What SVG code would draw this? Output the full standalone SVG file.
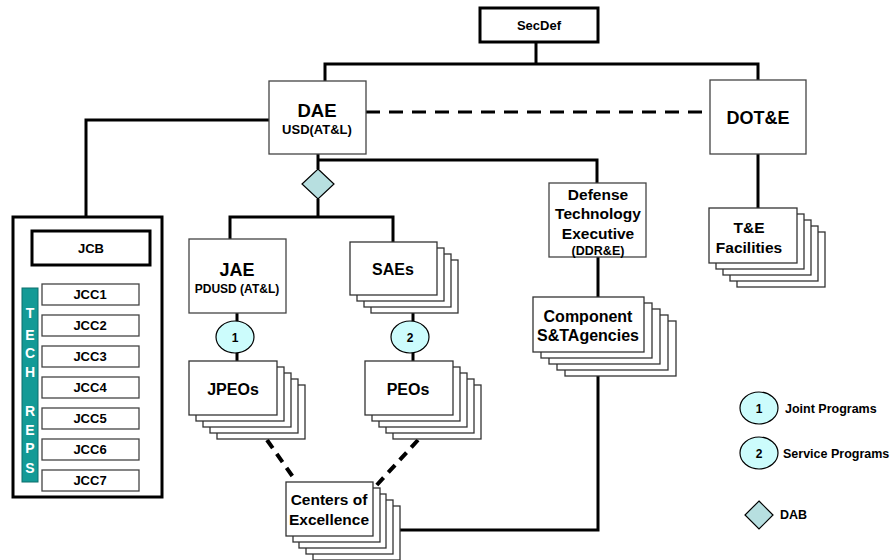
<svg xmlns="http://www.w3.org/2000/svg" width="896" height="560" viewBox="0 0 896 560">
<style>
text{font-family:"Liberation Sans",Arial,sans-serif;font-weight:bold;fill:#000;text-anchor:middle}
.box{fill:#fff;stroke:#444;stroke-width:1.3}
.thick{fill:#fff;stroke:#000;stroke-width:3}
.stk{fill:#fff;stroke:#333;stroke-width:1.3}
.ln{fill:none;stroke:#000;stroke-width:3}
.dash{fill:none;stroke:#000;stroke-width:3;stroke-dasharray:14 9}
.dash2{fill:none;stroke:#000;stroke-width:4;stroke-dasharray:10 7}
.oval{fill:#ccfcfc;stroke:#000;stroke-width:1.2}
.dia{fill:#b7dfe0;stroke:#000;stroke-width:1.2}
.rep{fill:#fff;font-size:14px}
.leg{text-anchor:start;font-size:12.5px}
</style>
<rect width="896" height="560" fill="#fff"/>
<g id="connectors">
<polyline class="ln" points="536,42 536,64"/>
<polyline class="ln" points="325,81 325,64 758,64 758,80"/>
<line class="dash" x1="366" y1="112" x2="710" y2="112"/>
<polyline class="ln" points="269,120 86,120 86,217"/>
<polyline class="ln" points="318,154 318,169"/>
<polyline class="ln" points="318,160 597,160 597,183"/>
<polyline class="ln" points="318,199 318,217"/>
<polyline class="ln" points="230,239 230,217 393,217 393,242"/>
<polyline class="ln" points="237,313 237,361"/>
<polyline class="ln" points="413,313 413,361"/>
<polyline class="ln" points="758,154 758,208"/>
<polyline class="ln" points="598,257 598,297"/>
<polyline class="ln" points="598,376 598,530 400,530"/>
<line class="dash2" x1="267" y1="440" x2="293" y2="477"/>
<line class="dash2" x1="418" y1="440" x2="375" y2="487"/>
</g>
<g id="secdef">
<rect class="thick" x="480" y="8" width="118" height="34"/>
<text x="539" y="29.5" font-size="13">SecDef</text>
</g>
<g id="dae">
<rect class="box" x="269" y="81" width="97" height="73"/>
<text x="317" y="117" font-size="18.5">DAE</text>
<text x="317" y="134" font-size="13">USD(AT&amp;L)</text>
</g>
<g id="dote">
<rect class="box" x="710" y="80" width="96" height="74"/>
<text x="758" y="124" font-size="18">DOT&amp;E</text>
</g>
<g id="dab">
<polygon class="dia" points="318,169 334,184 318,199 302,184"/>
</g>
<g id="jcb-panel">
<rect class="thick" x="13" y="217" width="149" height="280"/>
<g id="jcb">
<rect class="thick" x="32" y="231" width="118" height="34"/>
<text x="91" y="252.5" font-size="13">JCB</text>
</g>
<g id="tech-reps">
<rect x="22" y="288" width="16" height="194" fill="#139a96" stroke="#0c6f6c" stroke-width="1"/>
<text class="rep" x="30" y="318">T</text>
<text class="rep" x="30" y="340">E</text>
<text class="rep" x="30" y="358">C</text>
<text class="rep" x="30" y="377">H</text>
<text class="rep" x="30" y="416">R</text>
<text class="rep" x="30" y="435">E</text>
<text class="rep" x="30" y="453">P</text>
<text class="rep" x="30" y="473">S</text>
</g>
<g id="jcc1"><rect class="box" x="42" y="284" width="97" height="21"/><text x="90" y="299" font-size="13">JCC1</text></g>
<g id="jcc2"><rect class="box" x="42" y="315" width="97" height="21"/><text x="90" y="330" font-size="13">JCC2</text></g>
<g id="jcc3"><rect class="box" x="42" y="346" width="97" height="21"/><text x="90" y="361" font-size="13">JCC3</text></g>
<g id="jcc4"><rect class="box" x="42" y="377" width="97" height="21"/><text x="90" y="392" font-size="13">JCC4</text></g>
<g id="jcc5"><rect class="box" x="42" y="408" width="97" height="21"/><text x="90" y="423" font-size="13">JCC5</text></g>
<g id="jcc6"><rect class="box" x="42" y="439" width="97" height="21"/><text x="90" y="454" font-size="13">JCC6</text></g>
<g id="jcc7"><rect class="box" x="42" y="470" width="97" height="21"/><text x="90" y="485" font-size="13">JCC7</text></g>
</g>
<g id="jae">
<rect class="box" x="189" y="239" width="97" height="74"/>
<text x="237" y="276" font-size="18">JAE</text>
<text x="237" y="293" font-size="12">PDUSD (AT&amp;L)</text>
</g>
<g id="saes">
<rect class="stk" x="371" y="260" width="87" height="53"/>
<rect class="stk" x="364" y="254" width="87" height="53"/>
<rect class="stk" x="357" y="248" width="87" height="53"/>
<rect class="stk" x="350" y="242" width="87" height="53"/>
<text x="393" y="274.5" font-size="16">SAEs</text>
</g>
<g id="oval1">
<ellipse class="oval" cx="235" cy="337" rx="19" ry="16"/>
<text x="235" y="341.5" font-size="12">1</text>
</g>
<g id="oval2">
<ellipse class="oval" cx="410" cy="337" rx="19" ry="16"/>
<text x="410" y="341.5" font-size="12">2</text>
</g>
<g id="jpeos">
<rect class="stk" x="217" y="385" width="88" height="54"/>
<rect class="stk" x="210" y="379" width="88" height="54"/>
<rect class="stk" x="203" y="373" width="88" height="54"/>
<rect class="stk" x="196" y="367" width="88" height="54"/>
<rect class="stk" x="189" y="361" width="88" height="54"/>
<text x="233" y="394.5" font-size="16">JPEOs</text>
</g>
<g id="peos">
<rect class="stk" x="393" y="385" width="88" height="54"/>
<rect class="stk" x="386" y="379" width="88" height="54"/>
<rect class="stk" x="379" y="373" width="88" height="54"/>
<rect class="stk" x="372" y="367" width="88" height="54"/>
<rect class="stk" x="365" y="361" width="88" height="54"/>
<text x="408" y="394.5" font-size="16">PEOs</text>
</g>
<g id="centers">
<rect class="stk" x="313" y="506" width="87" height="54"/>
<rect class="stk" x="306" y="500" width="87" height="54"/>
<rect class="stk" x="299" y="494" width="87" height="54"/>
<rect class="stk" x="293" y="488" width="87" height="54"/>
<rect class="stk" x="286" y="482" width="87" height="54"/>
<text x="329" y="504.5" font-size="15.5">Centers of</text>
<text x="329" y="524.5" font-size="15.5">Excellence</text>
</g>
<g id="dte">
<rect class="box" x="549" y="183" width="97" height="74"/>
<text x="598" y="199.5" font-size="15.5">Defense</text>
<text x="598" y="218.5" font-size="15.5">Technology</text>
<text x="598" y="238.5" font-size="15.5">Executive</text>
<text x="598" y="254.5" font-size="12.5">(DDR&amp;E)</text>
</g>
<g id="component">
<rect class="stk" x="565" y="321" width="111" height="55"/>
<rect class="stk" x="557" y="315" width="111" height="55"/>
<rect class="stk" x="549" y="309" width="111" height="55"/>
<rect class="stk" x="541" y="303" width="111" height="55"/>
<rect class="stk" x="533" y="297" width="111" height="55"/>
<text x="588" y="321.5" font-size="16">Component</text>
<text x="588" y="340.5" font-size="16">S&amp;TAgencies</text>
</g>
<g id="te">
<rect class="stk" x="737" y="232" width="88" height="55"/>
<rect class="stk" x="730" y="226" width="88" height="55"/>
<rect class="stk" x="723" y="220" width="88" height="55"/>
<rect class="stk" x="716" y="214" width="88" height="55"/>
<rect class="stk" x="709" y="208" width="88" height="55"/>
<text x="749" y="232.5" font-size="15.5">T&amp;E</text>
<text x="749" y="252.5" font-size="15.5">Facilities</text>
</g>
<g id="legend">
<ellipse class="oval" cx="759" cy="408" rx="19" ry="16"/>
<text x="759" y="412.5" font-size="12">1</text>
<text class="leg" x="785" y="412.5">Joint Programs</text>
<ellipse class="oval" cx="759" cy="453" rx="19" ry="16"/>
<text x="759" y="457.5" font-size="12">2</text>
<text class="leg" x="783" y="457.5">Service Programs</text>
<polygon class="dia" points="759,501 773,515 759,529 745,515"/>
<text class="leg" x="780" y="519" font-size="11">DAB</text>
</g>
</svg>
